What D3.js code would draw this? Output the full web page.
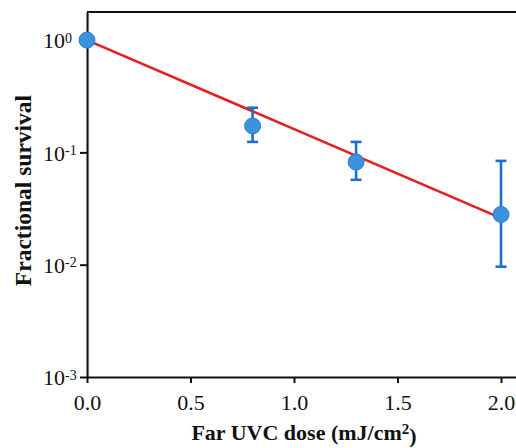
<!DOCTYPE html>
<html>
<head>
<meta charset="utf-8">
<script src="https://cdn.jsdelivr.net/npm/d3@7/dist/d3.min.js"></script>
<style>
  html, body { margin: 0; padding: 0; background: #fff; }
  svg { display: block; }
  svg text { font-family: "Liberation Serif", "Times New Roman", serif; fill: #111; }
</style>
</head>
<body>
<svg id="chart" width="516" height="448"></svg>
<script>
// ---- data ----
const doses = [0, 0.8, 1.3, 2.0];
const survival = [1.0, 0.172, 0.082, 0.028];
const errUpper = [1.0, 0.25, 0.124, 0.084];
const errLower = [1.0, 0.124, 0.057, 0.0096];
const fitDose = [0, 2.0];
const fitSurvival = [1.0, 0.026];
const xTicks = [0, 0.5, 1.0, 1.5, 2.0];
const yTickExponents = [0, -1, -2, -3];
const xLabel = "Far UVC dose (mJ/cm";
const xLabelSup = "2";
const xLabelEnd = ")";
const yLabel = "Fractional survival";

// ---- layout ----
const W = 516, H = 448;
const m = { left: 87, top: 12, right: 0, bottom: 71 };
const svg = d3.select("#chart");
const FONT = "'Liberation Serif', 'Times New Roman', serif";

const x = d3.scaleLinear().domain([0, 2.0725]).range([m.left, W - m.right]);
const y = d3.scaleLog().domain([1e-3, Math.pow(10, 0.25)]).range([H - m.bottom, m.top]);

// frame: top border
svg.append("line")
  .attr("x1", x(0)).attr("x2", W).attr("y1", m.top).attr("y2", m.top)
  .attr("stroke", "#111").attr("stroke-width", 2);

// faint blue shadow along y axis
svg.append("line")
  .attr("x1", x(0) + 1.8).attr("x2", x(0) + 1.8)
  .attr("y1", y(Math.pow(10, 0.25))).attr("y2", y(1e-3))
  .attr("stroke", "#8fc0ea").attr("stroke-width", 1).attr("opacity", 0.7);

// x axis
const xAxis = d3.axisBottom(x).tickValues(xTicks).tickFormat(d3.format(".1f"))
  .tickSizeInner(6).tickSizeOuter(0).tickPadding(11);
const gx = svg.append("g").attr("transform", `translate(0,${y(1e-3)})`).call(xAxis)
  .attr("font-family", FONT);
gx.select(".domain").attr("stroke", "#111").attr("stroke-width", 2);
gx.selectAll(".tick line").attr("stroke", "#111").attr("stroke-width", 2);
gx.selectAll(".tick text").attr("font-size", 22).attr("fill", "#111")
  .style("font-family", FONT);

// y axis
const yAxis = d3.axisLeft(y).tickValues(yTickExponents.map(e => Math.pow(10, e)))
  .tickFormat("").tickSizeInner(7).tickSizeOuter(0);
const gy = svg.append("g").attr("transform", `translate(${x(0)},0)`).call(yAxis)
  .attr("font-family", FONT);
gy.select(".domain").attr("stroke", "#111").attr("stroke-width", 2);
gy.selectAll(".tick line").attr("stroke", "#111").attr("stroke-width", 2);
gy.selectAll(".tick").each(function(d, i) {
  const t = d3.select(this).append("text")
    .attr("x", -44).attr("dy", "0.36em").attr("text-anchor", "start")
    .attr("font-size", 22).attr("fill", "#111")
    .style("font-family", FONT);
  t.append("tspan").text("10");
  t.append("tspan").attr("dy", "-0.42em").attr("font-size", 14)
    .text(String(yTickExponents[i]));
});

// fit line
const line = d3.line().x((d, i) => x(fitDose[i])).y(d => y(d));
svg.append("path").datum(fitSurvival)
  .attr("d", line).attr("fill", "none")
  .attr("stroke", "#e3201f").attr("stroke-width", 2.6);

// error bars
const pts = doses.map((d, i) => ({ d, s: survival[i], hi: errUpper[i], lo: errLower[i] }));
const eb = svg.append("g").attr("stroke", "#1b6fd1").attr("stroke-width", 2.6);
pts.filter(p => p.hi !== p.lo).forEach(p => {
  eb.append("line").attr("x1", x(p.d)).attr("x2", x(p.d)).attr("y1", y(p.hi)).attr("y2", y(p.lo));
  eb.append("line").attr("x1", x(p.d) - 5.5).attr("x2", x(p.d) + 5.5).attr("y1", y(p.hi)).attr("y2", y(p.hi));
  eb.append("line").attr("x1", x(p.d) - 5.5).attr("x2", x(p.d) + 5.5).attr("y1", y(p.lo)).attr("y2", y(p.lo));
});

// points
svg.append("g").selectAll("circle").data(pts).join("circle")
  .attr("cx", p => x(p.d)).attr("cy", p => y(p.s)).attr("r", 8)
  .attr("fill", "#3d92dd").attr("stroke", "#2a80d2").attr("stroke-width", 1);

// axis titles
const xt = svg.append("text")
  .attr("x", 304).attr("y", 440).attr("text-anchor", "middle")
  .attr("font-size", 22).attr("font-weight", "bold")
  .style("font-family", FONT);
xt.append("tspan").text(xLabel);
xt.append("tspan").attr("dy", "-0.42em").attr("font-size", 15).text(xLabelSup);
xt.append("tspan").attr("dy", "0.42em").text(xLabelEnd);

svg.append("text")
  .attr("transform", `translate(31,${(m.top + y(1e-3)) / 2 - 4}) rotate(-90)`)
  .attr("text-anchor", "middle")
  .attr("font-size", 23.5).attr("font-weight", "bold")
  .style("font-family", FONT)
  .text(yLabel);
</script>
</body>
</html>
